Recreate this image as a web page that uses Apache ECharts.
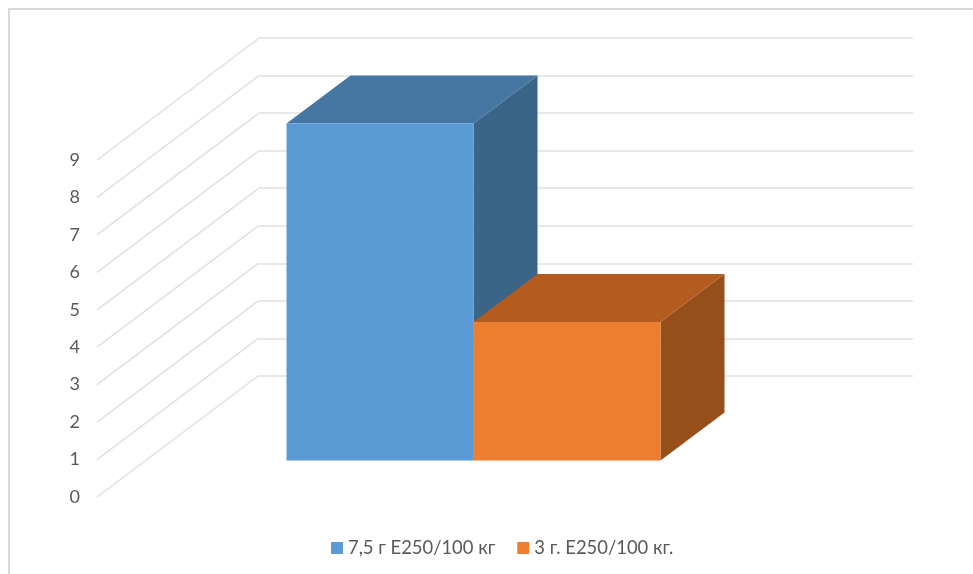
<!DOCTYPE html>
<html>
<head>
<meta charset="utf-8">
<style>html,body{margin:0;padding:0;background:#fff}#c{width:973px;height:574px}</style>
<script src="https://cdn.jsdelivr.net/npm/echarts@6/dist/echarts.min.js"></script>
</head>
<body>
<div id="c"></div>
<script>
const categories = ['Е250'];
const seriesNames = ['7,5 г Е250/100 кг', '3 г. Е250/100 кг.'];
const firstValues = [9];
const secondValues = [3.7];
const tickValues = [0, 1, 2, 3, 4, 5, 6, 7, 8, 9];

const FONT = 'Lato, "Open Sans", sans-serif';
const TEXT = '#595959';
const LINE = '#e0e0e0';
// Projection of the 3D box: wall depth and bar depth, in pixels
const WALL = [161, -121];
const BASE = [49, -36.5];
const DEPTH = [64, -48];
const BAR_W = 187;

function box(sideIndex, front, top, side) {
  return function (params, api) {
    const o = api.coord([api.value(0), 0]);
    const v = api.coord([api.value(0), api.value(1)]);
    const x0 = o[0] + BASE[0] + (sideIndex === 0 ? -BAR_W : 0);
    const x1 = x0 + BAR_W;
    const y0 = o[1] + BASE[1];
    const y1 = v[1] + BASE[1];
    const dx = DEPTH[0], dy = DEPTH[1];
    const poly = (pts, c) => ({ type: 'polygon', shape: { points: pts }, style: { fill: c } });
    return {
      type: 'group',
      children: [
        poly([[x1, y0], [x1 + dx, y0 + dy], [x1 + dx, y1 + dy], [x1, y1]], side),
        poly([[x0, y1], [x1, y1], [x1 + dx, y1 + dy], [x0 + dx, y1 + dy]], top),
        poly([[x0, y0], [x1, y0], [x1, y1], [x0, y1]], front)
      ]
    };
  };
}

const chart = echarts.init(document.getElementById('c'), null, { renderer: 'canvas' });
chart.setOption({
  animation: false,
  backgroundColor: '#fff',
  graphic: [{
    type: 'rect', z: -10, silent: true,
    shape: { x: 9, y: 9, width: 1100, height: 1100 },
    style: { fill: 'none', stroke: '#d9d9d9', lineWidth: 2 }
  }],
  legend: {
    left: 326, top: 534, itemWidth: 12, itemHeight: 12, itemGap: 22,
    icon: 'rect',
    data: seriesNames,
    textStyle: { fontFamily: FONT, fontSize: 18.4, color: TEXT }
  },
  grid: [
    { left: 97, top: 160, width: 655, height: 337 },
    { left: 258, top: 38, width: 655, height: 338 }
  ],
  xAxis: [
    { type: 'category', gridIndex: 0, data: categories, axisLine: { show: false }, axisTick: { show: false }, axisLabel: { show: false } },
    { type: 'category', gridIndex: 1, data: categories, axisLine: { show: false }, axisTick: { show: false }, axisLabel: { show: false } }
  ],
  yAxis: [
    {
      type: 'value', gridIndex: 0, min: 0, max: 9, interval: 1,
      axisLine: { show: false }, axisTick: { show: false }, splitLine: { show: false },
      axisLabel: { margin: 17, fontFamily: FONT, fontSize: 18, color: TEXT }
    },
    {
      type: 'value', gridIndex: 1, min: 0, max: 9, interval: 1,
      axisLine: { show: false }, axisTick: { show: false }, axisLabel: { show: false },
      splitLine: { show: true, lineStyle: { color: LINE, width: 1.5 } }
    }
  ],
  series: [
    {
      type: 'custom', name: 'wall', xAxisIndex: 0, yAxisIndex: 0, z: 1, silent: true,
      data: tickValues.map(v => [v]),
      encode: { y: 0 },
      renderItem: function (params, api) {
        const pLeft = api.coord([0, api.value(0)]);
        const x = params.coordSys.x;
        return {
          type: 'line',
          shape: { x1: x, y1: pLeft[1], x2: x + WALL[0], y2: pLeft[1] + WALL[1] },
          style: { stroke: LINE, lineWidth: 1.5 }
        };
      }
    },
    {
      type: 'custom', name: seriesNames[0], xAxisIndex: 0, yAxisIndex: 0, z: 2,
      itemStyle: { color: '#5b9bd5' },
      data: categories.map((c, i) => [i, firstValues[i]]),
      encode: { x: 0, y: 1 },
      renderItem: box(0, '#5b9bd5', '#4676a2', '#3a6488')
    },
    {
      type: 'custom', name: seriesNames[1], xAxisIndex: 0, yAxisIndex: 0, z: 3,
      itemStyle: { color: '#ed7d31' },
      data: categories.map((c, i) => [i, secondValues[i]]),
      encode: { x: 0, y: 1 },
      renderItem: box(1, '#ed7d2f', '#b45c1f', '#964e1a')
    }
  ]
});
</script>
</body>
</html>
